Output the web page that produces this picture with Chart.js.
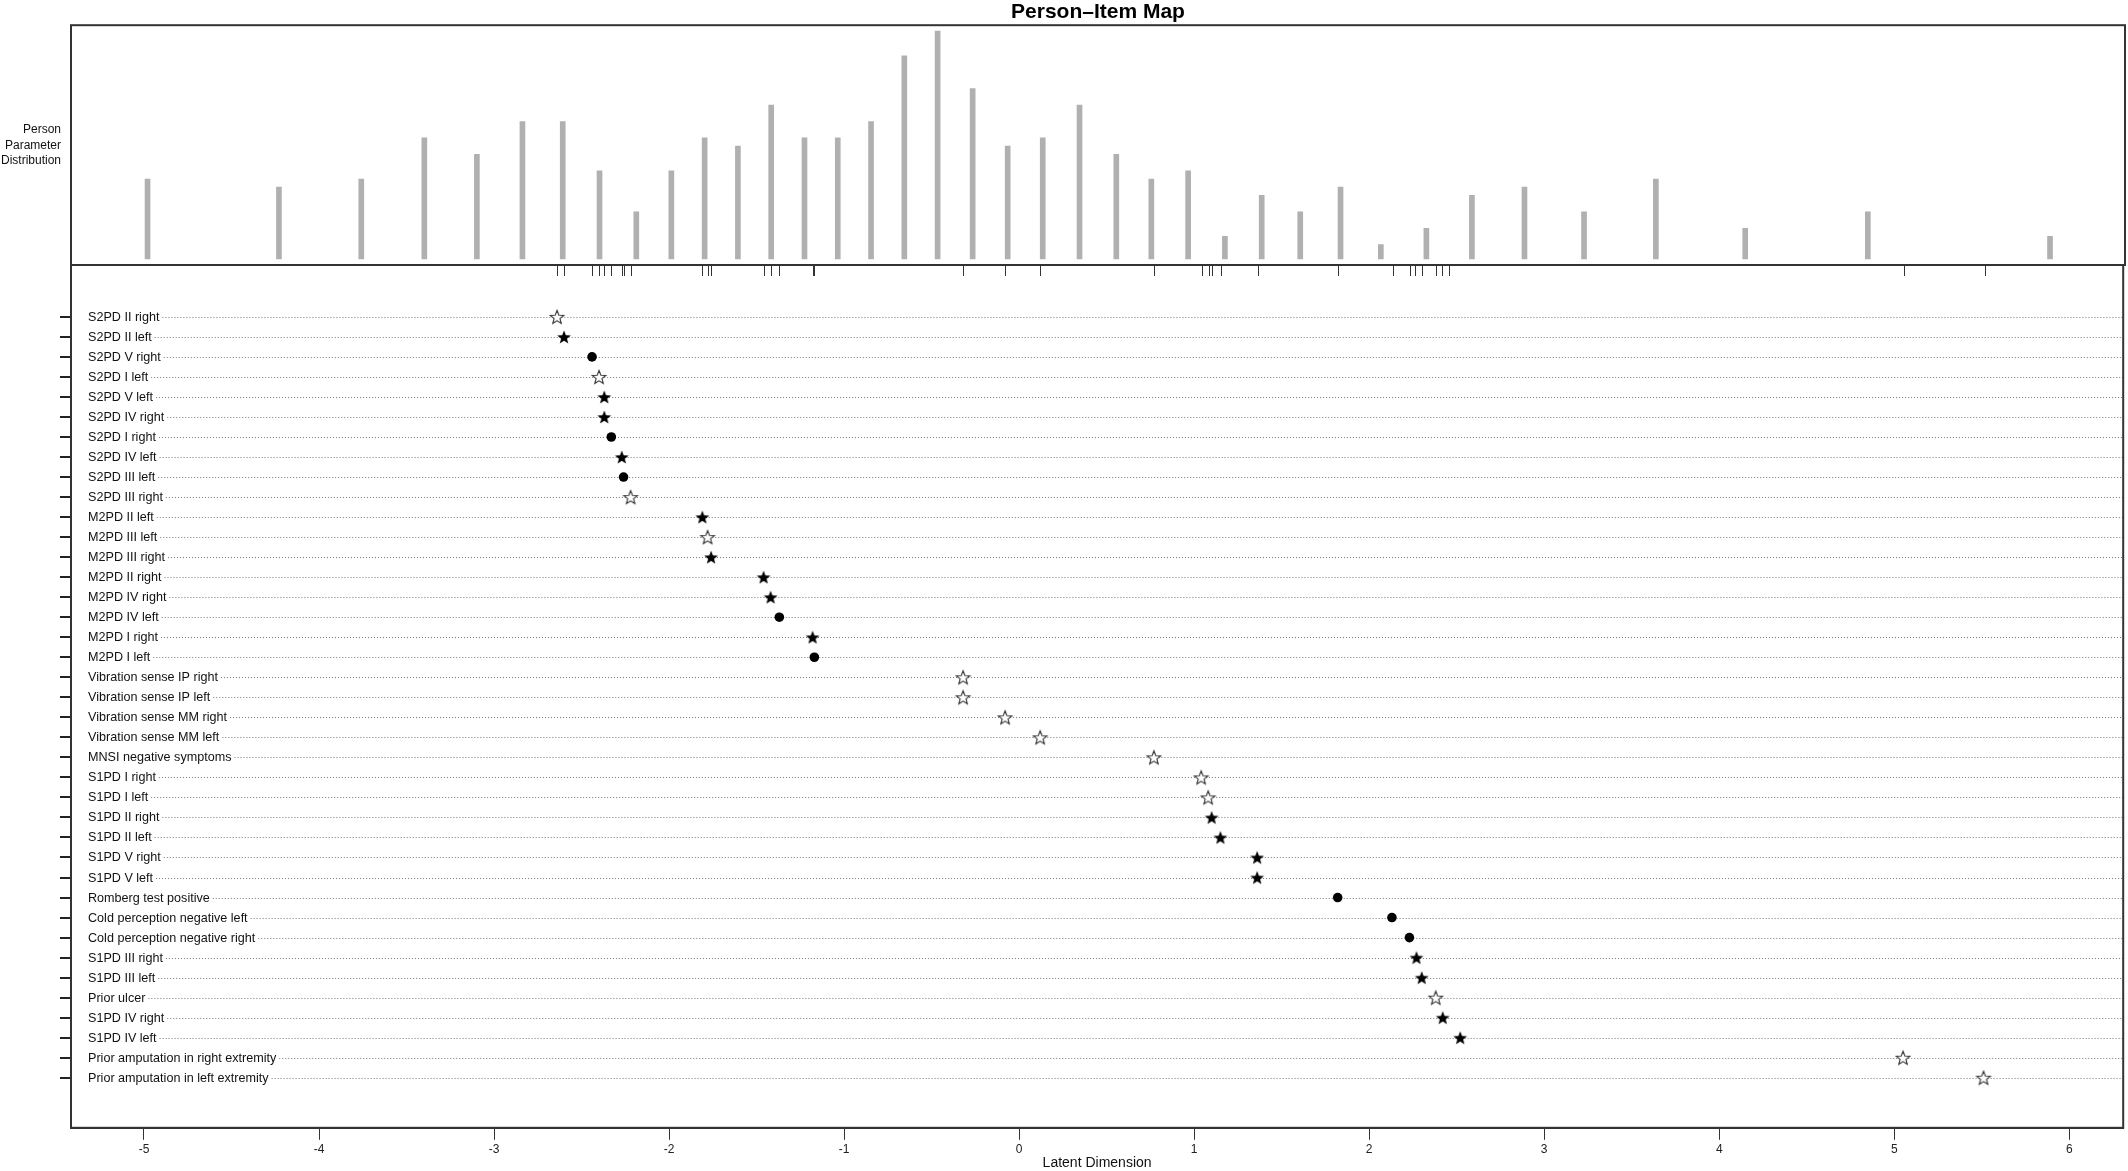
<!DOCTYPE html>
<html>
<head>
<meta charset="utf-8">
<title>Person–Item Map</title>
<script src="https://cdn.jsdelivr.net/npm/chart.js@4.4.1/dist/chart.umd.min.js"></script>
<style>
  html, body { margin: 0; padding: 0; background: #fff; overflow: hidden; }
  #wrap { position: relative; width: 2128px; height: 1171px; overflow: hidden; }
  #top { position: absolute; left: 0; top: 0; }
  #main { position: absolute; left: 0; top: 255px; }
  #side {
    position: absolute; left: 0; top: 122px; width: 61px;
    text-align: right; font: 12px "Liberation Sans", Arial, sans-serif;
    line-height: 15.5px; color: #111;
  }
</style>
</head>
<body>
<div id="wrap">
  <canvas id="top" width="2128" height="276"></canvas>
  <canvas id="main" width="2128" height="922"></canvas>
  <div id="side">Person<br>Parameter<br>Distribution</div>
</div>
<script>
// person parameter distribution (location on latent dimension, number of persons)
const personLocations = [-4.98, -4.23, -3.76, -3.40, -3.10, -2.84, -2.61, -2.40, -2.19, -1.99,
    -1.80, -1.61, -1.42, -1.23, -1.04, -0.85, -0.66, -0.47, -0.27, -0.07,
    0.13, 0.34, 0.55, 0.75, 0.96, 1.17, 1.38, 1.60, 1.83, 2.06,
    2.32, 2.58, 2.88, 3.22, 3.63, 4.14, 4.84, 5.88];
const personCounts = [9, 8, 9, 14, 12, 16, 16, 10, 5, 10,
    14, 13, 18, 14, 14, 16, 24, 27, 20, 13,
    14, 18, 12, 9, 10, 2, 7, 5, 8, 1,
    3, 7, 8, 5, 9, 3, 5, 2];

// items, top to bottom
const itemLabels = [
    'S2PD II right', 'S2PD II left', 'S2PD V right', 'S2PD I left', 'S2PD V left',
    'S2PD IV right', 'S2PD I right', 'S2PD IV left', 'S2PD III left', 'S2PD III right',
    'M2PD II left', 'M2PD III left', 'M2PD III right', 'M2PD II right', 'M2PD IV right',
    'M2PD IV left', 'M2PD I right', 'M2PD I left',
    'Vibration sense IP right', 'Vibration sense IP left', 'Vibration sense MM right',
    'Vibration sense MM left', 'MNSI negative symptoms',
    'S1PD I right', 'S1PD I left', 'S1PD II right', 'S1PD II left', 'S1PD V right', 'S1PD V left',
    'Romberg test positive', 'Cold perception negative left', 'Cold perception negative right',
    'S1PD III right', 'S1PD III left', 'Prior ulcer', 'S1PD IV right', 'S1PD IV left',
    'Prior amputation in right extremity', 'Prior amputation in left extremity'
];
const itemLocations = [-2.64, -2.60, -2.44, -2.40, -2.37, -2.37, -2.33, -2.27, -2.26, -2.22,
    -1.81, -1.78, -1.76, -1.46, -1.42, -1.37, -1.18, -1.17,
    -0.32, -0.32, -0.08, 0.12, 0.77,
    1.04, 1.08, 1.10, 1.15, 1.36, 1.36,
    1.82, 2.13, 2.23, 2.27, 2.30, 2.38, 2.42, 2.52,
    5.05, 5.51];
// marker kind per item: fill = black star, open = hollow star, dot = black circle
const itemMarkers = ['open', 'fill', 'dot', 'open', 'fill', 'fill', 'dot', 'fill', 'dot', 'open',
    'fill', 'open', 'fill', 'fill', 'fill', 'dot', 'fill', 'dot',
    'open', 'open', 'open', 'open', 'open',
    'open', 'open', 'fill', 'fill', 'fill', 'fill',
    'dot', 'dot', 'dot', 'fill', 'fill', 'open', 'fill', 'fill',
    'open', 'open'];
// rug of item locations under the histogram
const rugLocations = [-2.64, -2.60, -2.44, -2.40, -2.37, -2.33, -2.27, -2.26, -2.22,
    -1.81, -1.78, -1.76, -1.46, -1.42, -1.37, -1.18, -1.17,
    -0.32, -0.08, 0.12, 0.77, 1.04, 1.08, 1.10, 1.15, 1.36,
    1.82, 2.13, 2.23, 2.26, 2.30, 2.38, 2.41, 2.45, 5.05, 5.51];
const xTicks = [-5, -4, -3, -2, -1, 0, 1, 2, 3, 4, 5, 6];

const FONT = '"Liberation Sans", Arial, sans-serif';
const X_MIN = -5.417, X_MAX = 6.308;

function makeStar(filled) {
    const c = document.createElement('canvas');
    c.width = 18; c.height = 18;
    const g = c.getContext('2d');
    const R = 7.2, r = 3.1, cx = 9, cy = 9.7;
    g.beginPath();
    for (let k = 0; k < 10; k++) {
        const a = -Math.PI / 2 + k * Math.PI / 5;
        const rad = k % 2 === 0 ? R : r;
        g.lineTo(cx + rad * Math.cos(a), cy + rad * Math.sin(a));
    }
    g.closePath();
    if (filled) {
        g.fillStyle = '#000';
        g.fill();
    } else {
        g.fillStyle = '#fff';
        g.fill();
        g.strokeStyle = '#333';
        g.lineWidth = 1.1;
        g.stroke();
    }
    return c;
}
const markerStyle = { fill: makeStar(true), open: makeStar(false), dot: 'circle' };

const frame = {
    id: 'frame',
    afterDraw(chart) {
        const { ctx, chartArea: a } = chart;
        ctx.save();
        ctx.strokeStyle = '#333';
        ctx.lineWidth = 2;
        ctx.strokeRect(a.left, a.top, a.right - a.left, a.bottom - a.top);
        ctx.restore();
    }
};

// item names inside the plot, with a dotted guide running to the right edge
const rowGuides = {
    id: 'rowGuides',
    beforeDatasetsDraw(chart) {
        const { ctx, chartArea: a } = chart;
        const y = chart.scales.y;
        ctx.save();
        ctx.font = '12.6px ' + FONT;
        ctx.textBaseline = 'middle';
        ctx.fillStyle = '#111';
        itemLabels.forEach((lab, i) => {
            const py = Math.round(y.getPixelForValue(i)) + 0.5;
            const x0 = a.left + 17;
            ctx.fillText(lab, x0, py);
            const w = ctx.measureText(lab).width;
            ctx.beginPath();
            ctx.setLineDash([1, 2]);
            ctx.strokeStyle = '#777';
            ctx.lineWidth = 1;
            ctx.moveTo(x0 + w + 3, py);
            ctx.lineTo(a.right, py);
            ctx.stroke();
        });
        ctx.restore();
    }
};

// upper panel: person parameter distribution
new Chart(document.getElementById('top'), {
    type: 'bar',
    data: {
        datasets: [{
            data: personLocations.map((x, i) => ({ x: x, y: personCounts[i] })),
            backgroundColor: '#b0b0b0',
            barThickness: 5,
            base: -0.75
        }]
    },
    options: {
        responsive: false,
        animation: false,
        devicePixelRatio: 1,
        layout: { padding: { left: 71, right: 3, top: 0, bottom: 0 } },
        plugins: {
            legend: { display: false },
            tooltip: { enabled: false },
            title: {
                display: true,
                fullSize: false,
                text: 'Person–Item Map',
                color: '#000',
                font: { family: FONT, size: 21, weight: 'bold' },
                padding: { top: 0, bottom: 0 }
            }
        },
        scales: {
            x: {
                type: 'linear',
                min: X_MIN,
                max: X_MAX,
                offset: false,
                afterBuildTicks: ax => { ax.ticks = rugLocations.map(v => ({ value: v })); },
                afterFit: ax => { ax.height = 11; },
                grid: { offset: false, drawOnChartArea: false, tickLength: 11, color: '#333', lineWidth: 1 },
                border: { color: '#333', width: 2 },
                ticks: { display: false }
            },
            y: { display: false, min: -1.48, max: 27.73 }
        }
    },
    plugins: [frame]
});

// lower panel: item map
new Chart(document.getElementById('main'), {
    type: 'scatter',
    data: {
        datasets: [{
            data: itemLocations.map((x, i) => ({ x: x, y: i })),
            pointStyle: itemMarkers.map(m => markerStyle[m]),
            pointRadius: 4.8,
            backgroundColor: '#000',
            borderWidth: 0
        }]
    },
    options: {
        responsive: false,
        animation: false,
        devicePixelRatio: 1,
        layout: { padding: { left: 60, right: 3, top: 10, bottom: 0 } },
        plugins: { legend: { display: false }, tooltip: { enabled: false } },
        scales: {
            x: {
                type: 'linear',
                min: X_MIN,
                max: X_MAX,
                afterBuildTicks: ax => { ax.ticks = xTicks.map(v => ({ value: v })); },
                grid: { drawOnChartArea: false, tickLength: 12, color: '#333', lineWidth: 1 },
                border: { color: '#333', width: 2 },
                ticks: { color: '#222', font: { family: FONT, size: 12 }, padding: 3, maxRotation: 0, autoSkip: false },
                title: {
                    display: true,
                    text: 'Latent Dimension',
                    color: '#111',
                    font: { family: FONT, size: 14 },
                    padding: { top: -5, bottom: 5 }
                }
            },
            y: {
                type: 'linear',
                reverse: true,
                min: -2.59,
                max: 40.5,
                afterBuildTicks: ax => { ax.ticks = itemLabels.map((_, i) => ({ value: i })); },
                afterFit: ax => { ax.width = 11; },
                grid: { drawOnChartArea: false, tickLength: 11, color: '#222', lineWidth: 2 },
                border: { color: '#333', width: 2 },
                ticks: { display: false }
            }
        }
    },
    plugins: [rowGuides, frame]
});
</script>
</body>
</html>
